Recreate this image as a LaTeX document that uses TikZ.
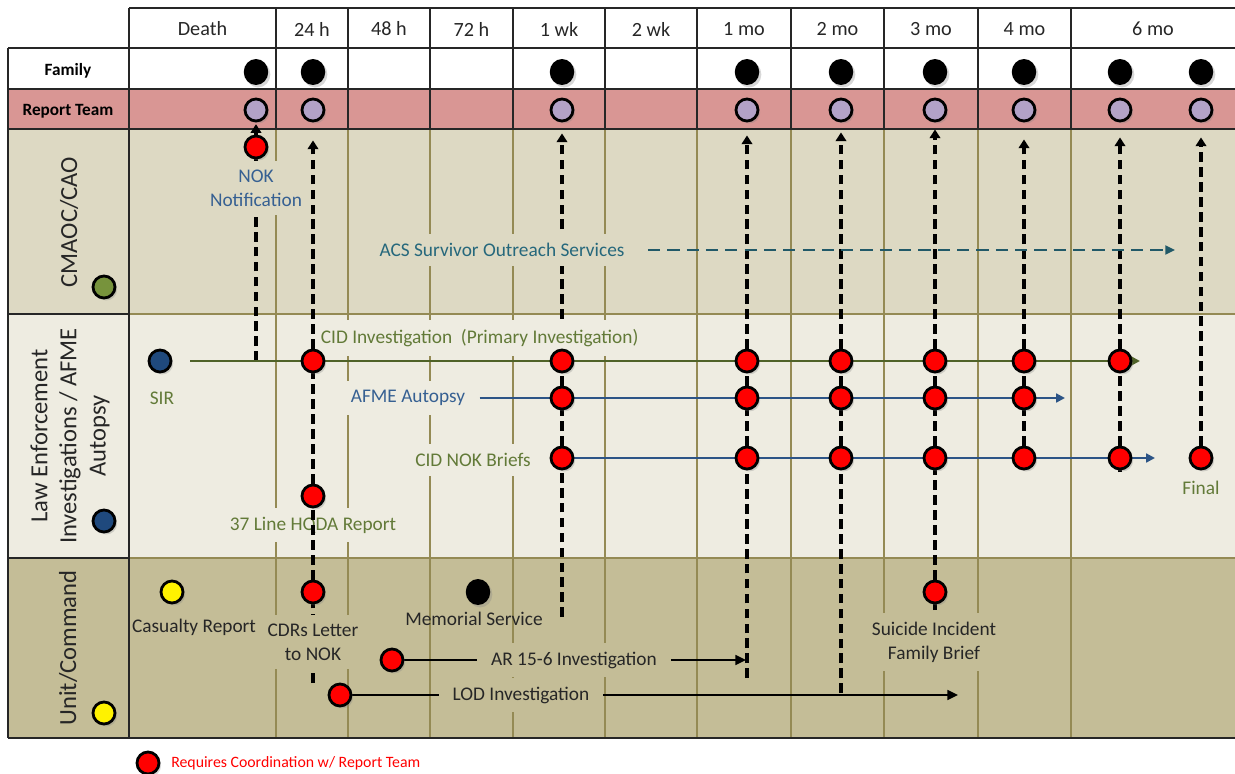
\documentclass[tikz,border=0pt]{standalone}
\usepackage{fontspec}
\setmainfont{Carlito}
\usetikzlibrary{arrows.meta, positioning, shadows, shapes.geometric}
\usepackage{xcolor}
\definecolor{rtpink}{RGB}{217,150,148}
\definecolor{cmaocbg}{RGB}{221,217,195}
\definecolor{lawbg}{RGB}{238,236,225}
\definecolor{unitbg}{RGB}{196,189,151}
\definecolor{gridol}{RGB}{148,138,84}
\definecolor{framegray}{RGB}{38,38,38}
\definecolor{lavender}{RGB}{179,162,199}
\definecolor{olivetxt}{RGB}{98,122,56}
\definecolor{bluetxt}{RGB}{54,96,146}
\definecolor{tealtxt}{RGB}{38,104,124}
\definecolor{tealline}{RGB}{33,89,104}
\definecolor{cidgreen}{RGB}{79,98,40}
\definecolor{afmeblue}{RGB}{44,84,134}
\definecolor{cmaocgreen}{RGB}{119,147,60}
\definecolor{lawnavy}{RGB}{31,73,125}
\pgfdeclarelayer{bg}
\pgfdeclarelayer{low}
\pgfdeclarelayer{lines}
\pgfdeclarelayer{labels}
\pgfsetlayers{bg,low,lines,labels,main}

\begin{document}
\begin{tikzpicture}[x=0.02cm, y=-0.02cm,
  shd/.style={drop shadow={shadow xshift=1.2pt, shadow yshift=-1.4pt, opacity=0.3}},
  ev/.style={circle, draw=black, line width=1.6pt, minimum size=0.44cm, inner sep=0pt, fill=#1, shd},
  fam/.style={ellipse, fill=black, minimum width=0.49cm, minimum height=0.52cm, inner sep=0pt, shd},
  hdr/.style={font=\fontsize{11.5}{13}\selectfont, text=framegray},
  rowlab/.style={font=\fontsize{9.8}{12}\selectfont\bfseries, text=black},
  sidelab/.style={font=\fontsize{14}{16.6}\selectfont, text=framegray, rotate=90, align=center},
  lab/.style={font=\fontsize{11}{13.5}\selectfont, align=center, inner xsep=8pt, inner ysep=5pt},
  dashln/.style={black, line width=2pt, dash pattern=on 5.5pt off 3pt},
  uptip/.style={-{Triangle[length=5pt, width=6pt]}},
  cidln/.style={cidgreen, line width=1.3pt, -{Triangle[length=5pt, width=5pt]}},
  afmeln/.style={afmeblue, line width=1.2pt, -{Triangle[length=5pt, width=5pt]}},
  blkln/.style={black, line width=1.3pt, -{Triangle[length=6pt, width=5.5pt]}},
  acsln/.style={tealline, line width=1.4pt, dash pattern=on 7pt off 4pt, -{Triangle[length=5.5pt, width=5pt]}}]
  \useasboundingbox (0,0) rectangle (1235,774);

  % 行底色与表格线
  \begin{pgfonlayer}{bg}
    \fill[white] (8,48) rectangle (1235,89);
    \fill[rtpink] (8,89) rectangle (1235,129);
    \fill[cmaocbg] (8,129) rectangle (1235,314);
    \fill[lawbg] (8,314) rectangle (1235,558);
    \fill[unitbg] (8,558) rectangle (1235,738);
    \foreach \gx in {276,348,430,513,605,697,791,884,978,1071} {
      \draw[gridol, line width=0.8pt] (\gx,129) -- (\gx,738);
      \draw[framegray, line width=1pt] (\gx,8) -- (\gx,129);
    }
    \draw[gridol, line width=0.8pt] (129,314) -- (1235,314) (129,558) -- (1235,558);
    \draw[framegray, line width=1pt]
      (129,8) -- (1235,8) (8,48) -- (1235,48) (8,89) -- (1235,89) (8,129) -- (1235,129)
      (8,314) -- (129,314) (8,558) -- (129,558) (8,738) -- (1235,738)
      (8,48) -- (8,738) (129,8) -- (129,738);
  \end{pgfonlayer}

  % 时间轴表头
  \foreach \cx/\txt [count=\i] in {202.5/Death, 312/24 h, 389/48 h, 471.5/72 h, 559/1 wk,
      651/2 wk, 744/1 mo, 837.5/2 mo, 931/3 mo, 1024.5/4 mo, 1153/6 mo}
    \node[hdr] (hd\i) at (\cx,29) {\txt};

  % 左侧行标题
  \node[rowlab] (fam-lab) at (68,71) {Family};
  \node[rowlab] (rt-lab) at (68,111) {Report Team};
  \node[sidelab] (cmaoc-lab) at (69,222) {CMAOC/CAO};
  \node[sidelab] (law-lab) at (70,436) {Law Enforcement\\Investigations / AFME\\Autopsy};
  \node[sidelab] (unit-lab) at (68,648) {Unit/Command};
  \node[ev=cmaocgreen] (cmaoc-dot) at (104,287) {};
  \node[ev=lawnavy] (law-dot) at (104,521) {};
  \node[ev=yellow] (unit-dot) at (104,713) {};

  % Family / Report Team 节点
  \foreach \px [count=\i from 0] in {256,313,562,747,841,935,1024,1120,1201} {
    \node[fam] (fam-\i) at (\px,72) {};
    \node[ev=lavender] (rt-\i) at (\px,110) {};
  }

  % CMAOC/CAO
  \node[ev=red] (nok) at (256,147) {};
  \coordinate (cid-0) at (256,361);
  \coordinate (acs-end) at (1175,250);

  % 执法调查 / 尸检
  \node[ev=lawnavy] (sir) at (160,361) {};
  \node[text=olivetxt, font=\fontsize{11}{13.5}\selectfont] (sir-lab) at (162,398) {SIR};
  \foreach \i/\px in {1/313, 2/562, 3/747, 4/841, 5/935, 6/1024, 7/1120}
    \node[ev=red] (cid-\i) at (\px,361) {};
  \foreach \i/\px in {2/562, 3/747, 4/841, 5/935, 6/1024}
    \node[ev=red] (afme-\i) at (\px,398) {};
  \foreach \i/\px in {2/562, 3/747, 4/841, 5/935, 6/1024, 7/1120, 8/1201}
    \node[ev=red] (brief-\i) at (\px,458) {};
  \node[text=olivetxt, font=\fontsize{11}{13.5}\selectfont] (final-lab) at (1201,488) {Final};
  \node[ev=red] (hq) at (313,496) {};
  \coordinate (cid-end) at (1140,361);
  \coordinate (afme-end) at (1065,398);
  \coordinate (brief-end) at (1155,458);

  % 部队 / 指挥
  \node[ev=yellow] (cas) at (172,592) {};
  \node[font=\fontsize{11}{13.5}\selectfont, text=framegray] (cas-lab) at (194,627) {Casualty Report};
  \node[ev=red] (cdr) at (313,592) {};
  \node[fam] (mem) at (478,592) {};
  \node[font=\fontsize{11}{13.5}\selectfont, text=framegray] (mem-lab) at (474,619) {Memorial Service};
  \node[ev=red] (sui) at (935,592) {};
  \node[ev=red] (ar) at (392,660) {};
  \node[ev=red] (lod) at (340,695) {};
  \coordinate (ar-end) at (746,660);
  \coordinate (lod-end) at (958,695);
  \foreach \i/\px/\py in {1/313/683, 2/562/617, 3/747/678, 4/841/693, 5/935/610, 7/1120/472}
    \coordinate (bot-\i) at (\px,\py);

  % 图例
  \node[ev=red] (leg-dot) at (148,763) {};
  \node[right=6pt of leg-dot, inner sep=0pt, text=red, font=\fontsize{9}{11}\selectfont] (leg-txt)
    {Requires Coordination w/ Report Team};

  % 被虚线压住的标签
  \begin{pgfonlayer}{low}
    \node[lab, fill=lawbg, text=olivetxt] (hq-lab) at (313,525) {37 Line HQDA Report};
  \end{pgfonlayer}

  % 盖住网格线的标签
  \begin{pgfonlayer}{labels}
    \node[lab, fill=cmaocbg, text=bluetxt, inner xsep=3pt] (nok-lab) at (256,188) {NOK\\Notification};
    \node[lab, fill=cmaocbg, text=tealtxt] (acs) at (502,250) {ACS Survivor Outreach Services};
    \node[lab, fill=lawbg, text=olivetxt, inner xsep=2pt, anchor=west] (cid-lab) at (317,338)
      {CID Investigation~~(Primary Investigation)};
    \node[lab, fill=lawbg, text=bluetxt] (afme-lab) at (408,398) {AFME Autopsy};
    \node[lab, fill=lawbg, text=olivetxt] (brief-lab) at (473,460) {CID NOK Briefs};
    \node[lab, fill=unitbg, text=framegray] (cdr-lab) at (313,642) {CDRs Letter\\to NOK};
    \node[lab, fill=unitbg, text=framegray] (ar-lab) at (574,660) {AR 15-6 Investigation};
    \node[lab, fill=unitbg, text=framegray] (lod-lab) at (521,695) {LOD Investigation};
    \node[lab, fill=unitbg, text=framegray] (sui-lab) at (934,642) {Suicide Incident\\Family Brief};
  \end{pgfonlayer}

  \begin{pgfonlayer}{lines}
    % 向 Report Team 的虚线箭头
    \draw[dashln] (cid-0) -- (nok);
    \draw[dashln, uptip, shorten >=1pt] (nok) -- (rt-0);
    \foreach \i/\sh in {1/0.36cm, 2/0.22cm, 3/0.26cm, 4/0.2cm, 5/0.14cm, 6/0.34cm, 7/0.3cm}
      \draw[dashln, uptip, shorten >=\sh] (cid-\i) -- (rt-\i);
    \draw[dashln, uptip, shorten >=0.3cm] (brief-8) -- (rt-8);
    \draw[dashln] (bot-1) -- (cdr) -- (hq) -- (cid-1);
    \draw[dashln] (bot-2) -- (brief-2) -- (afme-2) -- (cid-2);
    \draw[dashln] (bot-3) -- (brief-3) -- (afme-3) -- (cid-3);
    \draw[dashln] (bot-4) -- (brief-4) -- (afme-4) -- (cid-4);
    \draw[dashln] (bot-5) -- (sui) -- (brief-5) -- (afme-5) -- (cid-5);
    \draw[dashln] (brief-6) -- (afme-6) -- (cid-6);
    \draw[dashln] (bot-7) -- (brief-7) -- (cid-7);
    % 横向进程
    \draw[acsln, shorten <=0.18cm] (acs) -- (acs-end);
    \draw[cidln, shorten <=0.36cm] (sir) -- (cid-end);
    \draw[afmeln] (afme-lab) -- (afme-end);
    \draw[afmeln] (brief-2) -- (brief-end);
    \draw[blkln] (ar) -- (ar-end);
    \draw[blkln] (lod) -- (lod-end);
  \end{pgfonlayer}
\end{tikzpicture}
\end{document}
